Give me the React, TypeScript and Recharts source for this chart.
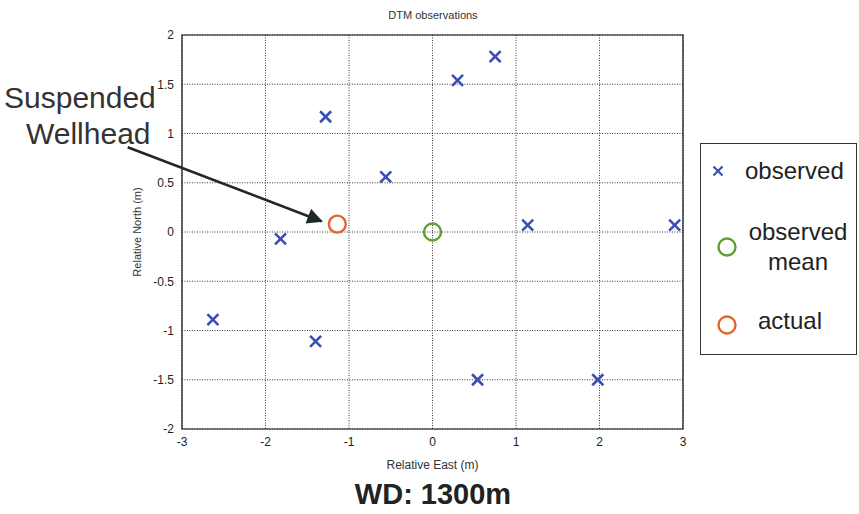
import React from "react";
import {
  ScatterChart, Scatter, XAxis, YAxis, CartesianGrid,
  ReferenceArea, ReferenceLine,
} from "recharts";

const EAST_OBS = [-2.63, -1.82, -1.28, -1.4, -0.56, 0.3, 0.75, 1.14, 2.9, 0.54, 1.98];
const NORTH_OBS = [-0.89, -0.07, 1.17, -1.11, 0.56, 1.54, 1.78, 0.07, 0.07, -1.5, -1.5];
const EAST_MEAN = [0];
const NORTH_MEAN = [0];
const EAST_ACTUAL = [-1.14];
const NORTH_ACTUAL = [0.08];
const X_TICKS = [-3, -2, -1, 0, 1, 2, 3];
const Y_TICKS = [-2, -1.5, -1, -0.5, 0, 0.5, 1, 1.5, 2];
const ARROW = [
  { x: -3.65, y: 0.86 },
  { x: -1.33, y: 0.11 },
];

const FONT = "'Liberation Sans', Arial, sans-serif";
const BLUE = "#3a4fb6";
const GREEN = "#5f9f30";
const ORANGE = "#e0662c";

const toPoints = (xs: number[], ys: number[]) => xs.map((x, i) => ({ x, y: ys[i] }));

const observed = toPoints(EAST_OBS, NORTH_OBS);
const mean = toPoints(EAST_MEAN, NORTH_MEAN);
const actual = toPoints(EAST_ACTUAL, NORTH_ACTUAL);

function Cross({ cx, cy, s = 5.5, w = 2.6 }: { cx?: number; cy?: number; s?: number; w?: number }) {
  if (cx == null || cy == null) return null;
  return (
    <path
      d={`M${cx - s},${cy - s}L${cx + s},${cy + s}M${cx - s},${cy + s}L${cx + s},${cy - s}`}
      stroke={BLUE}
      strokeWidth={w}
      fill="none"
    />
  );
}

const ring = (color: string) => (p: { cx?: number; cy?: number }) =>
  p.cx == null || p.cy == null ? null : (
    <circle cx={p.cx} cy={p.cy} r={8.5} fill="none" stroke={color} strokeWidth={2.4} />
  );

// legend drawn by hand, kept outside the chart so it doesn't shrink the plot
function LegendBox() {
  const txt = { fontFamily: FONT, fontSize: 24, fill: "#222" } as const;
  return (
    <svg width={157} height={212} style={{ position: "absolute", left: 700, top: 143 }}>
      <rect x={0.5} y={0.5} width={156} height={211} fill="#fff" stroke="#333" />
      <Cross cx={18} cy={28} s={4.5} w={2.2} />
      <text x={45} y={36} {...txt}>observed</text>
      <circle cx={27} cy={104} r={8.5} fill="none" stroke={GREEN} strokeWidth={2.4} />
      <text x={98} y={97} textAnchor="middle" {...txt}>observed</text>
      <text x={98} y={127} textAnchor="middle" {...txt}>mean</text>
      <circle cx={27} cy={182} r={8.5} fill="none" stroke={ORANGE} strokeWidth={2.4} />
      <text x={90} y={186} textAnchor="middle" {...txt}>actual</text>
    </svg>
  );
}

export default function App() {
  const tick = { fill: "#222", fontSize: 12, fontFamily: FONT };
  return (
    <div style={{ position: "absolute", left: 0, top: 0, width: 859, height: 514, background: "#fff" }}>
      <div style={{ position: "absolute", left: 0, width: 866, top: 9, textAlign: "center", fontFamily: FONT, fontSize: 11, color: "#333" }}>
        DTM observations
      </div>
      <ScatterChart width={859} height={514} margin={{ top: 35, right: 176, bottom: 41, left: 92 }}>
        <defs>
          <marker id="arrowHead" viewBox="0 0 10 10" refX="9" refY="5" markerWidth="7" markerHeight="6" orient="auto" markerUnits="strokeWidth">
            <path d="M0,0L10,5L0,10z" fill="#1d2828" />
          </marker>
        </defs>
        <CartesianGrid stroke="#3a3a3a" strokeDasharray="1 1.5" strokeWidth={1} />
        <XAxis
          type="number"
          dataKey="x"
          domain={[-3, 3]}
          ticks={X_TICKS}
          allowDataOverflow
          tick={tick}
          tickLine={false}
          axisLine={false}
          height={44}
          label={{ value: "Relative East (m)", position: "insideBottom", offset: 4, fill: "#333", fontSize: 12, fontFamily: FONT }}
        />
        <YAxis
          type="number"
          dataKey="y"
          domain={[-2, 2]}
          ticks={Y_TICKS}
          allowDataOverflow
          tick={tick}
          tickLine={false}
          axisLine={false}
          width={90}
          label={{ value: "Relative North (m)", angle: -90, position: "center", fill: "#333", fontSize: 11, fontFamily: FONT }}
        />
        <ReferenceArea x1={-3} x2={3} y1={-2} y2={2} fill="none" stroke="#111" strokeWidth={1.2} ifOverflow="visible" />
        <ReferenceLine
          segment={ARROW}
          ifOverflow="visible"
          shape={(p: any) => (
            <line x1={p.x1} y1={p.y1} x2={p.x2} y2={p.y2} stroke="#1d2828" strokeWidth={2.6} markerEnd="url(#arrowHead)" />
          )}
        />
        <Scatter name="observed" data={observed} shape={(p: any) => <Cross cx={p.cx} cy={p.cy} />} isAnimationActive={false} />
        <Scatter name="observed mean" data={mean} shape={ring(GREEN)} isAnimationActive={false} />
        <Scatter name="actual" data={actual} shape={ring(ORANGE)} isAnimationActive={false} />
      </ScatterChart>
      <LegendBox />
      <div style={{ position: "absolute", left: 4, top: 80, fontFamily: FONT, fontSize: 30, color: "#333", lineHeight: "36px" }}>
        Suspended
        <br />
        <span style={{ marginLeft: 22 }}>Wellhead</span>
      </div>
      <div style={{ position: "absolute", left: 0, width: 866, top: 478, textAlign: "center", fontFamily: FONT, fontSize: 29, fontWeight: "bold", color: "#222" }}>
        WD: 1300m
      </div>
    </div>
  );
}
